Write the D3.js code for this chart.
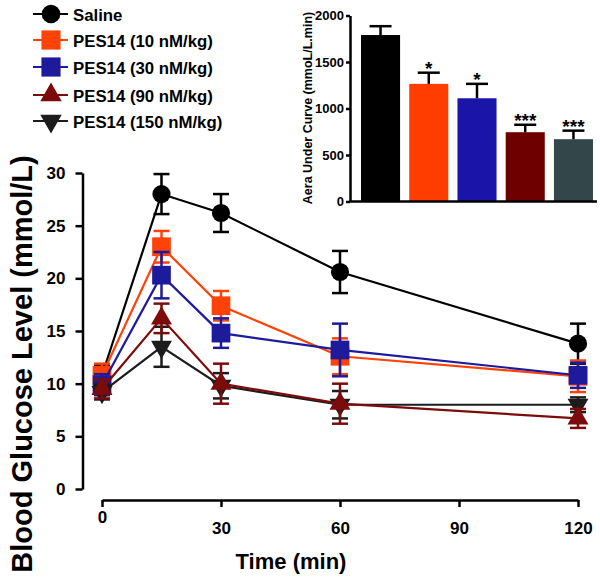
<!DOCTYPE html>
<html>
<head>
<meta charset="utf-8">
<script src="https://cdn.jsdelivr.net/npm/d3@7"></script>
<style>
  body { margin: 0; background: #fff; }
  svg { display: block; font-family: "Liberation Sans", Arial, sans-serif; }
</style>
</head>
<body>
<div id="chart"></div>
<script>
// data
const times = [0, 15, 30, 60, 120];
const xTicks = [0, 30, 60, 90, 120];
const yTicks = [0, 5, 10, 15, 20, 25, 30];

const seriesNames = ["Saline", "PES14 (10 nM/kg)", "PES14 (30 nM/kg)", "PES14 (90 nM/kg)", "PES14 (150 nM/kg)"];
const saline    = [10.8, 28.0, 26.2, 20.6, 13.8];
const salineErr = [1.0, 1.9, 1.8, 2.0, 1.9];
const pes10     = [10.8, 23.0, 17.4, 12.6, 10.7];
const pes10Err  = [1.1, 1.5, 1.4, 1.7, 1.5];
const pes30     = [9.9, 20.3, 14.8, 13.2, 10.8];
const pes30Err  = [1.0, 2.2, 1.4, 2.5, 1.2];
const pes90     = [9.5, 16.2, 10.0, 8.1, 6.7];
const pes90Err  = [0.9, 1.4, 1.9, 1.9, 0.9];
const pes150    = [9.2, 13.5, 9.8, 8.0, 8.0];
const pes150Err = [0.7, 1.9, 1.2, 1.3, 0.7];

// inset: area under curve
const aucValues = [1790, 1265, 1110, 745, 670];
const aucErr    = [95, 120, 155, 80, 92];
const aucStars  = ["", "*", "*", "***", "***"];
const aucTicks  = [0, 500, 1000, 1500, 2000];

const width = 600, height = 579;

const lineColors = ["#000000", "#ff4208", "#1e1a9c", "#7c0b0b", "#1c1c1c"];
const barColors  = ["#000000", "#ff3d00", "#1a14a8", "#6e0000", "#33474b"];
const markers = [
  {type: d3.symbolCircle, size: 260, rot: 0},
  {type: d3.symbolSquare, size: 350, rot: 0},
  {type: d3.symbolSquare, size: 350, rot: 0},
  {type: d3.symbolTriangle, size: 190, rot: 0},
  {type: d3.symbolTriangle, size: 190, rot: 180}
];

// drawing order (later on top)
const series = [
  {idx: 0, vals: saline, err: salineErr},
  {idx: 1, vals: pes10, err: pes10Err},
  {idx: 2, vals: pes30, err: pes30Err},
  {idx: 4, vals: pes150, err: pes150Err},
  {idx: 3, vals: pes90, err: pes90Err}
];

const svg = d3.select("#chart").append("svg")
  .attr("width", width)
  .attr("height", height);

// main scales
const x = d3.scaleLinear().domain([0, 120]).range([102, 578]);
const y = d3.scaleLinear().domain([0, 30]).range([489, 173]);

// y axis
svg.append("g")
  .attr("transform", "translate(82.5,0)")
  .call(d3.axisLeft(y).tickValues(yTicks).tickSize(7).tickSizeOuter(0).tickPadding(10))
  .call(g => g.selectAll("path, line").attr("stroke", "#000").attr("stroke-width", 2.5))
  .call(g => g.selectAll("text").attr("font-size", 17).attr("font-weight", "bold").attr("fill", "#000"));

// x axis (offset, GraphPad style)
svg.append("g")
  .attr("transform", "translate(0,500)")
  .call(d3.axisBottom(x).tickValues(xTicks).tickSize(7).tickSizeOuter(0).tickPadding(15))
  .call(g => g.selectAll("path, line").attr("stroke", "#000").attr("stroke-width", 2.5))
  .call(g => g.selectAll("text").attr("font-size", 17).attr("font-weight", "bold").attr("fill", "#000"))
  .call(g => g.selectAll(".tick text").filter(d => d === 0).attr("y", 11));

svg.append("text")
  .attr("x", 291).attr("y", 569)
  .attr("text-anchor", "middle")
  .attr("font-size", 22).attr("font-weight", "bold")
  .text("Time (min)");

svg.append("text")
  .attr("transform", "translate(32,364) rotate(-90)")
  .attr("text-anchor", "middle")
  .attr("font-size", 29).attr("font-weight", "bold")
  .attr("fill", "#000")
  .text("Blood Glucose Level (mmol/L)");

// series: lines, error bars, markers
const line = d3.line().x((d, i) => x(times[i])).y(d => y(d));
const capW = 8;

series.forEach(s => {
  const col = lineColors[s.idx];
  const g = svg.append("g");
  g.append("path")
    .attr("d", line(s.vals))
    .attr("fill", "none")
    .attr("stroke", col)
    .attr("stroke-width", 2.2);
  const eb = g.selectAll(".eb").data(s.vals).join("g");
  eb.append("line")
    .attr("x1", (d, i) => x(times[i])).attr("x2", (d, i) => x(times[i]))
    .attr("y1", (d, i) => y(d - s.err[i])).attr("y2", (d, i) => y(d + s.err[i]))
    .attr("stroke", col).attr("stroke-width", 2.5);
  [-1, 1].forEach(sg => {
    eb.append("line")
      .attr("x1", (d, i) => x(times[i]) - capW).attr("x2", (d, i) => x(times[i]) + capW)
      .attr("y1", (d, i) => y(d + sg * s.err[i])).attr("y2", (d, i) => y(d + sg * s.err[i]))
      .attr("stroke", col).attr("stroke-width", 2.5);
  });
  const m = markers[s.idx];
  g.selectAll(".mk").data(s.vals).join("path")
    .attr("d", d3.symbol().type(m.type).size(m.size))
    .attr("transform", (d, i) => `translate(${x(times[i])},${y(d)}) rotate(${m.rot})`)
    .attr("fill", col);
});

// legend
const legend = svg.append("g");
const legendY = [14, 40, 67, 95, 121];
seriesNames.forEach((name, i) => {
  const lg = legend.append("g").attr("transform", `translate(0,${legendY[i]})`);
  lg.append("line").attr("x1", 33).attr("x2", 68).attr("stroke", lineColors[i]).attr("stroke-width", 2);
  const m = markers[i];
  lg.append("path")
    .attr("d", d3.symbol().type(m.type).size(m.size * 1.05))
    .attr("transform", `translate(51,0) rotate(${m.rot})`)
    .attr("fill", lineColors[i]);
  lg.append("text")
    .attr("x", 73).attr("y", 6.5)
    .attr("font-size", 16.8).attr("font-weight", "bold")
    .text(name);
});

// inset bar chart
const bx = d3.scaleBand().domain(d3.range(aucValues.length)).range([361, 593]).paddingInner(0.19).paddingOuter(0);
const by = d3.scaleLinear().domain([0, 2000]).range([201.5, 15.5]);

const inset = svg.append("g");
inset.selectAll(".bar").data(aucValues).join("rect")
  .attr("x", (d, i) => bx(i))
  .attr("y", d => by(d))
  .attr("width", bx.bandwidth())
  .attr("height", d => by(0) - by(d))
  .attr("fill", (d, i) => barColors[i]);

inset.selectAll(".err").data(aucValues).join("line")
  .attr("x1", (d, i) => bx(i) + bx.bandwidth() / 2)
  .attr("x2", (d, i) => bx(i) + bx.bandwidth() / 2)
  .attr("y1", d => by(d))
  .attr("y2", (d, i) => by(d + aucErr[i]))
  .attr("stroke", "#000").attr("stroke-width", 2.5);
inset.selectAll(".cap").data(aucValues).join("line")
  .attr("x1", (d, i) => bx(i) + bx.bandwidth() / 2 - 11)
  .attr("x2", (d, i) => bx(i) + bx.bandwidth() / 2 + 11)
  .attr("y1", (d, i) => by(d + aucErr[i]))
  .attr("y2", (d, i) => by(d + aucErr[i]))
  .attr("stroke", "#000").attr("stroke-width", 2.5);
inset.selectAll(".star").data(aucValues).join("text")
  .attr("x", (d, i) => bx(i) + bx.bandwidth() / 2)
  .attr("y", (d, i) => by(d + aucErr[i]) + 2)
  .attr("text-anchor", "middle")
  .attr("font-size", 19).attr("font-weight", "bold")
  .text((d, i) => aucStars[i]);

inset.append("g")
  .attr("transform", "translate(350,0)")
  .call(d3.axisLeft(by).tickValues(aucTicks).tickFormat(d3.format("d")).tickSize(4).tickSizeOuter(0).tickPadding(2))
  .call(g => g.selectAll("path, line").attr("stroke", "#000").attr("stroke-width", 2.5))
  .call(g => g.selectAll("text").attr("font-size", 13).attr("font-weight", "bold").attr("fill", "#000"));

inset.append("line")
  .attr("x1", 349).attr("x2", 597)
  .attr("y1", by(0)).attr("y2", by(0))
  .attr("stroke", "#000").attr("stroke-width", 2.5);

inset.append("text")
  .attr("transform", "translate(312,108) rotate(-90)")
  .attr("text-anchor", "middle")
  .attr("font-size", 12.5).attr("font-weight", "bold")
  .text("Aera Under Curve (mmoL/L.min)");
</script>
</body>
</html>
